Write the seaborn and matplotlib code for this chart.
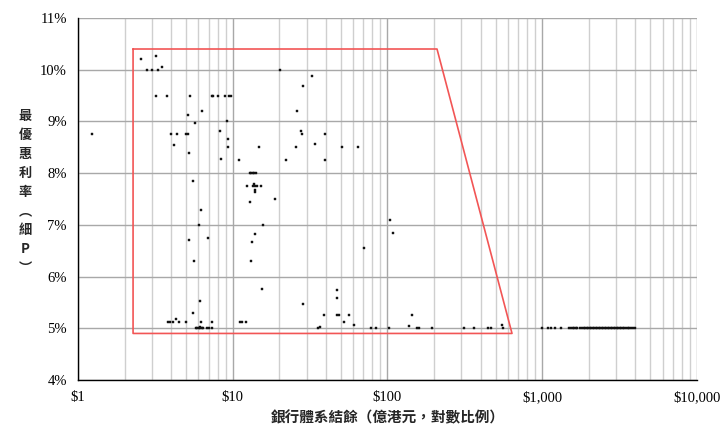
import matplotlib
matplotlib.use("Agg")
import matplotlib.pyplot as plt
import matplotlib.ticker as mticker
import seaborn as sns
import numpy as np
import pandas as pd

# bank balance (HK$ 100m, log scale) and prime rate (%)
balance = [
    1.24,
    2.56, 3.21, 2.80, 3.02, 3.29, 3.49, 20.1,
    3.18, 3.76, 5.29, 7.31, 7.49, 8.03, 8.96, 9.5, 9.79,
    32.7, 28.6, 6.36, 5.12, 26.1, 9.22, 5.68, 8.27,
    4.01, 4.38, 5.01, 5.16, 27.5, 28.0, 39.5,
    4.17, 9.28, 9.36, 14.8, 25.6, 34.0, 51.1, 64.7,
    5.24, 8.4, 11.0, 22.2, 39.6,
    12.9, 13.2, 13.5, 13.8, 14.2,
    5.51, 12.4, 13.6, 13.9, 14.3, 15.2, 13.7, 13.9, 13.9,
    12.9, 18.7, 6.2, 6.08, 15.6, 13.9, 13.3, 5.22, 6.89,
    5.59, 13.1, 15.4, 28.3, 6.17, 5.56, 4.28,
    3.83, 3.93, 4.13, 4.5, 4.99, 6.26, 7.34, 11.1, 11.4, 12.2,
    5.79, 5.90, 6.05, 6.17, 6.29, 6.44, 6.84, 7.05, 7.31, 6.17,
    35.7, 36.6, 70.8, 47.4, 47.4,
    39.0, 47.4, 48.7, 56.6, 52.1, 61.1, 78.2, 84.3,
    103.8, 108.0, 144.6, 138.3, 102.0, 155.9, 159.8, 195.0,
    313.0, 362.0, 448.0, 464.0, 552.0, 555.0,
    1000, 1085, 1140, 1218, 1325,
    1500, 1530, 1570, 1610, 1650, 1690,
    1760, 1800, 1850, 1890, 1940, 1980, 2030, 2080, 2120, 2170,
    2220, 2270, 2320, 2370, 2420, 2480, 2540, 2590, 2650, 2710,
    2770, 2830, 2890, 2960, 3030, 3100, 3170, 3240, 3320, 3400,
    3480, 3560, 3650, 3740, 3850, 3960,
]
prime_rate = [
    8.75,
    10.21, 10.26, 10.0, 10.0, 10.0, 10.05, 10.0,
    9.5, 9.5, 9.5, 9.5, 9.5, 9.5, 9.5, 9.5, 9.5,
    9.88, 9.68, 9.2, 9.13, 9.2, 9.0, 8.97, 8.81,
    8.75, 8.75, 8.75, 8.75, 8.82, 8.75, 8.75,
    8.55, 8.66, 8.5, 8.5, 8.5, 8.56, 8.5, 8.5,
    8.38, 8.27, 8.25, 8.25, 8.25,
    8.0, 8.0, 8.0, 8.0, 8.0,
    7.85, 7.75, 7.75, 7.75, 7.75, 7.75, 7.79, 7.67, 7.63,
    7.45, 7.5, 7.29, 7.0, 7.0, 6.82, 6.66, 6.7, 6.75,
    6.31, 6.31, 5.75, 5.47, 5.53, 5.29, 5.17,
    5.12, 5.12, 5.12, 5.12, 5.12, 5.12, 5.12, 5.12, 5.12, 5.12,
    5.0, 5.0, 5.0, 5.0, 5.0, 5.0, 5.0, 5.0, 5.0, 5.03,
    5.0, 5.03, 6.55, 5.74, 5.58,
    5.25, 5.25, 5.25, 5.25, 5.12, 5.07, 5.0, 5.0,
    7.09, 6.85, 5.25, 5.05, 5.0, 5.0, 5.0, 5.0,
    5.0, 5.0, 5.0, 5.0, 5.06, 5.0,
    5.0, 5.0, 5.0, 5.0, 5.0,
    5.0, 5.0, 5.0, 5.0, 5.0, 5.0,
    5.0, 5.0, 5.0, 5.0, 5.0, 5.0, 5.0, 5.0, 5.0, 5.0,
    5.0, 5.0, 5.0, 5.0, 5.0, 5.0, 5.0, 5.0, 5.0, 5.0,
    5.0, 5.0, 5.0, 5.0, 5.0, 5.0, 5.0, 5.0, 5.0, 5.0,
    5.0, 5.0, 5.0, 5.0, 5.0, 5.0,
]

# highlighted zone (trapezoid)
zone_x = [2.27, 209, 638, 2.27, 2.27]
zone_y = [10.4, 10.4, 4.9, 4.9, 10.4]

x_ticks = [1, 10, 100, 1000, 10000]
x_labels = ["$1", "$10", "$100", "$1,000", "$10,000"]
y_ticks = [4, 5, 6, 7, 8, 9, 10, 11]

x_title = "銀行體系結餘（億港元，對數比例）"
y_title = "最\n優\n惠\n利\n率\n︵\n細\nP\n︶"

sns.set_style("white")
plt.rcParams['font.family'] = ['Liberation Serif', 'DejaVu Serif']
cjk = ['Noto Sans CJK TC', 'DejaVu Sans']

df = pd.DataFrame({"balance": balance, "rate": prime_rate})

fig = plt.figure(figsize=(7.26, 4.30), dpi=100)
ax = fig.add_axes([0.1074, 0.1163, 0.8526, 0.8419])

ax.set_xscale("log")
ax.set_xlim(1, 10000)
ax.set_ylim(4, 11)

# grid: light minor verticals, darker decades and percent lines
ax.xaxis.set_minor_locator(mticker.LogLocator(base=10, subs=np.arange(2, 10)))
ax.grid(True, which="minor", axis="x", color="#cfcfcf", lw=1.0)
ax.grid(True, which="major", axis="x", color="#a8a8a8", lw=1.0)
ax.grid(True, which="major", axis="y", color="#a8a8a8", lw=1.0)
ax.set_axisbelow(True)

sns.scatterplot(data=df, x="balance", y="rate", ax=ax, marker="s", s=4,
                color="#111111", edgecolor="#111111", linewidth=0.3,
                legend=False, zorder=3)

ax.plot(zone_x, zone_y, color="#f25555", lw=1.2, zorder=2)

ax.set_xticks(x_ticks)
ax.set_xticklabels(x_labels)
ax.set_yticks(y_ticks)
ax.yaxis.set_major_formatter(mticker.FuncFormatter(lambda v, p: f"{v:.0f}%"))
ax.tick_params(axis="both", which="both", length=0, labelsize=10.5,
               colors="black", pad=8)
ax.tick_params(axis="x", which="minor", labelbottom=False)

for side in ["top", "right"]:
    ax.spines[side].set_visible(False)
for side in ["left", "bottom"]:
    ax.spines[side].set_color("black")
    ax.spines[side].set_linewidth(1.0)

ax.set_xlabel(x_title, family=cjk, fontweight="bold", fontsize=10.5, labelpad=4)
ax.set_ylabel(y_title, family=cjk, fontweight="bold", fontsize=9.5,
              rotation=0, linespacing=1.45, va="center", labelpad=10)
ax.yaxis.set_label_coords(-0.085, 0.52)

plt.savefig("out.png", dpi=100)
